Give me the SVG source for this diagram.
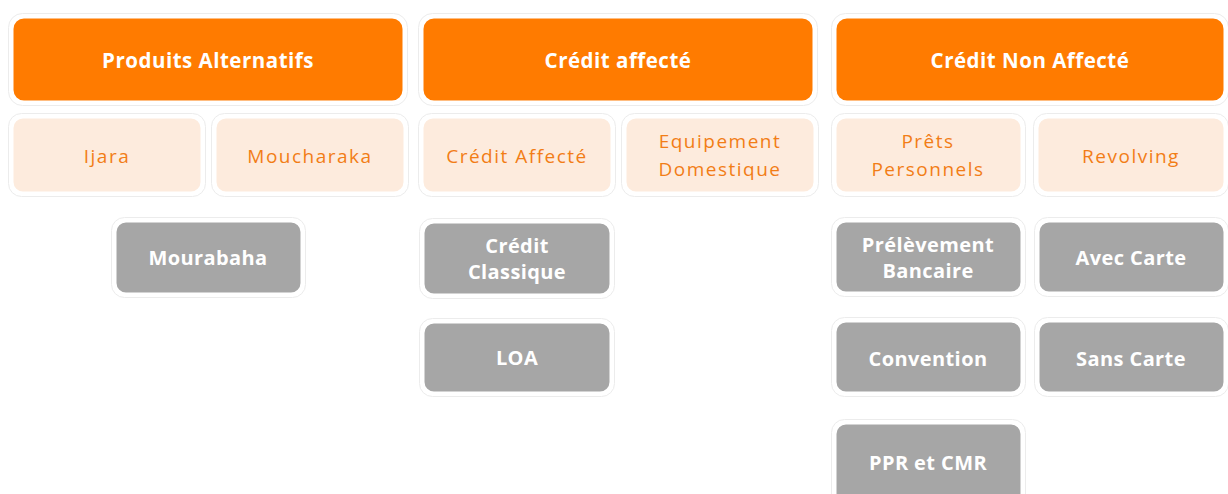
<svg xmlns="http://www.w3.org/2000/svg" width="1228" height="494" viewBox="0 0 1228 494">
<style>
.frame{fill:none;stroke:#ececec;stroke-width:1}
.hdr{fill:#FF7B00;stroke:#ffffff;stroke-width:3}
.sub{fill:#FDEBDD;stroke:#ffffff;stroke-width:3}
.leaf{fill:#A6A6A6;stroke:#ffffff;stroke-width:3}
text{font-family:"Open Sans","Liberation Sans",sans-serif;text-anchor:middle;dominant-baseline:central}
.th{fill:#ffffff;font-weight:bold;font-size:20.5px;letter-spacing:0.5px}
.ts{fill:#F27D16;font-size:19px;letter-spacing:1.5px}
.tl{fill:#ffffff;font-weight:bold;font-size:20px;letter-spacing:0.4px}
</style>
<rect width="1228" height="494" fill="#ffffff"/>
<g id="connectors"></g>
<g id="h1"><rect class="frame" x="8.5" y="13.5" width="399" height="92" rx="14"/><rect class="hdr" x="12" y="17" width="392" height="85" rx="12"/><text class="th" x="208" y="60">Produits Alternatifs</text></g>
<g id="h2"><rect class="frame" x="418.5" y="13.5" width="399" height="92" rx="14"/><rect class="hdr" x="422" y="17" width="392" height="85" rx="12"/><text class="th" x="618" y="60">Crédit affecté</text></g>
<g id="h3"><rect class="frame" x="831.5" y="13.5" width="397" height="92" rx="14"/><rect class="hdr" x="835" y="17" width="390" height="85" rx="12"/><text class="th" x="1030" y="60">Crédit Non Affecté</text></g>

<g id="s1"><rect class="frame" x="8.5" y="113.5" width="197" height="83" rx="13"/><rect class="sub" x="12" y="117" width="190" height="76" rx="11"/><text class="ts" x="107" y="156">Ijara</text></g>
<g id="s2"><rect class="frame" x="211.5" y="113.5" width="197" height="83" rx="13"/><rect class="sub" x="215" y="117" width="190" height="76" rx="11"/><text class="ts" x="310" y="156">Moucharaka</text></g>
<g id="s3"><rect class="frame" x="418.5" y="113.5" width="197" height="83" rx="13"/><rect class="sub" x="422" y="117" width="190" height="76" rx="11"/><text class="ts" x="517" y="156">Crédit Affecté</text></g>
<g id="s4"><rect class="frame" x="621.5" y="113.5" width="197" height="83" rx="13"/><rect class="sub" x="625" y="117" width="190" height="76" rx="11"/><text class="ts" x="720" y="141">Equipement</text><text class="ts" x="720" y="169">Domestique</text></g>
<g id="s5"><rect class="frame" x="831.5" y="113.5" width="194" height="83" rx="13"/><rect class="sub" x="835" y="117" width="187" height="76" rx="11"/><text class="ts" x="928" y="141">Prêts</text><text class="ts" x="928" y="169">Personnels</text></g>
<g id="s6"><rect class="frame" x="1033.5" y="113.5" width="195" height="83" rx="13"/><rect class="sub" x="1037" y="117" width="188" height="76" rx="11"/><text class="ts" x="1131" y="156">Revolving</text></g>

<g id="l1"><rect class="frame" x="111.5" y="217.5" width="194" height="80" rx="13"/><rect class="leaf" x="115" y="221" width="187" height="73" rx="11"/><text class="tl" x="208" y="257">Mourabaha</text></g>
<g id="l2"><rect class="frame" x="419.5" y="218.5" width="195" height="80" rx="13"/><rect class="leaf" x="423" y="222" width="188" height="73" rx="11"/><text class="tl" x="517" y="245">Crédit</text><text class="tl" x="517" y="271">Classique</text></g>
<g id="l3"><rect class="frame" x="419.5" y="318.5" width="195" height="78" rx="13"/><rect class="leaf" x="423" y="322" width="188" height="71" rx="11"/><text class="tl" x="517" y="357">LOA</text></g>
<g id="l4"><rect class="frame" x="831.5" y="217.5" width="194" height="79" rx="13"/><rect class="leaf" x="835" y="221" width="187" height="72" rx="11"/><text class="tl" x="928" y="244">Prélèvement</text><text class="tl" x="928" y="270">Bancaire</text></g>
<g id="l5"><rect class="frame" x="1034.5" y="217.5" width="194" height="79" rx="13"/><rect class="leaf" x="1038" y="221" width="187" height="72" rx="11"/><text class="tl" x="1131" y="257">Avec Carte</text></g>
<g id="l6"><rect class="frame" x="831.5" y="317.5" width="194" height="79" rx="13"/><rect class="leaf" x="835" y="321" width="187" height="72" rx="11"/><text class="tl" x="928" y="358">Convention</text></g>
<g id="l7"><rect class="frame" x="1034.5" y="317.5" width="194" height="79" rx="13"/><rect class="leaf" x="1038" y="321" width="187" height="72" rx="11"/><text class="tl" x="1131" y="358">Sans Carte</text></g>
<g id="l8"><rect class="frame" x="831.5" y="419.5" width="194" height="90" rx="13"/><rect class="leaf" x="835" y="423" width="187" height="83" rx="11"/><text class="tl" x="928" y="462">PPR et CMR</text></g>
</svg>
